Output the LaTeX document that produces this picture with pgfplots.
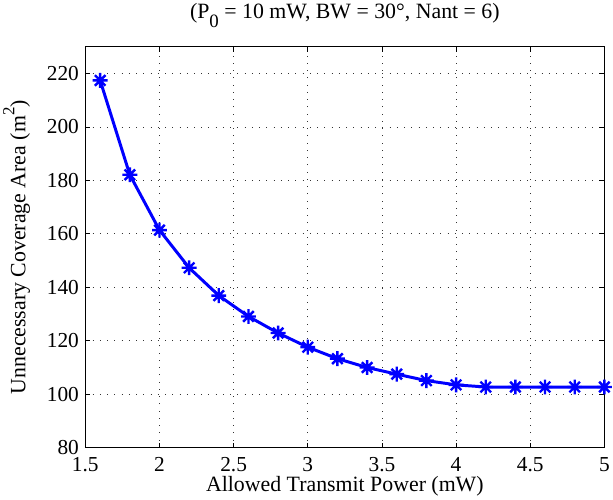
\documentclass[border=0pt]{standalone}
\usepackage{pgfplots}
\pgfplotsset{compat=1.18}
\usepackage{fontspec}
\setmainfont{Liberation Serif}
\pgfdeclareplotmark{ast8}{%
  \pgfpathmoveto{\pgfqpoint{0pt}{\pgfplotmarksize}}\pgfpathlineto{\pgfqpoint{0pt}{-\pgfplotmarksize}}%
  \pgfpathmoveto{\pgfqpoint{\pgfplotmarksize}{0pt}}\pgfpathlineto{\pgfqpoint{-\pgfplotmarksize}{0pt}}%
  \pgfpathmoveto{\pgfqpoint{0.7071\pgfplotmarksize}{0.7071\pgfplotmarksize}}\pgfpathlineto{\pgfqpoint{-0.7071\pgfplotmarksize}{-0.7071\pgfplotmarksize}}%
  \pgfpathmoveto{\pgfqpoint{0.7071\pgfplotmarksize}{-0.7071\pgfplotmarksize}}\pgfpathlineto{\pgfqpoint{-0.7071\pgfplotmarksize}{0.7071\pgfplotmarksize}}%
  \pgfusepathqstroke}
\begin{document}
\begin{tikzpicture}
\begin{axis}[
  scale only axis,
  width=523pt, height=404pt,
  xmin=1.5, xmax=5, ymin=80, ymax=230,
  xtick={1.5,2,...,5}, ytick={80,100,...,220},
  xticklabels={1.5,2,2.5,3,3.5,4,4.5,5},
  /pgf/number format/assume math mode=true,
  tick label style={font=\fontsize{21.5}{24}\selectfont},
  every axis label/.append style={font=\fontsize{22}{24}\selectfont},
  title style={font=\fontsize{22}{24}\selectfont, yshift=10pt},
  title={(P\raisebox{-0.4em}{\fontsize{19}{19}\selectfont 0} = 10 mW, BW = 30\textdegree, Nant = 6)},
  xlabel={Allowed Transmit Power (mW)},
  ylabel={Unnecessary Coverage Area (m\raisebox{0.5em}{\fontsize{17}{17}\selectfont 2})},
  xlabel style={yshift=2pt},
  ylabel style={yshift=10pt},
  xticklabel style={yshift=-6pt},
  yticklabel style={xshift=-3pt},
  grid=major,
  major grid style={black!80, line width=0.8pt, dash pattern=on 0.8pt off 6.5pt},
  tick align=inside,
  major tick length=5pt,
  axis line style={black, line width=1pt},
  tick style={black, line width=0.8pt},
  clip=false,
]
\addplot[blue, line width=3pt, mark=ast8, mark size=7.5pt, mark options={line width=2.4pt}] coordinates {
(1.6,217.4) (1.8,182.1) (2.0,161.4) (2.2,147.3) (2.4,136.9) (2.6,129.1)
(2.8,122.9) (3.0,117.6) (3.2,113.3) (3.4,110.0) (3.6,107.5) (3.8,105.1)
(4.0,103.5) (4.2,102.7) (4.4,102.7) (4.6,102.7) (4.8,102.7) (5.0,102.7)
};
\end{axis}
\end{tikzpicture}
\end{document}
